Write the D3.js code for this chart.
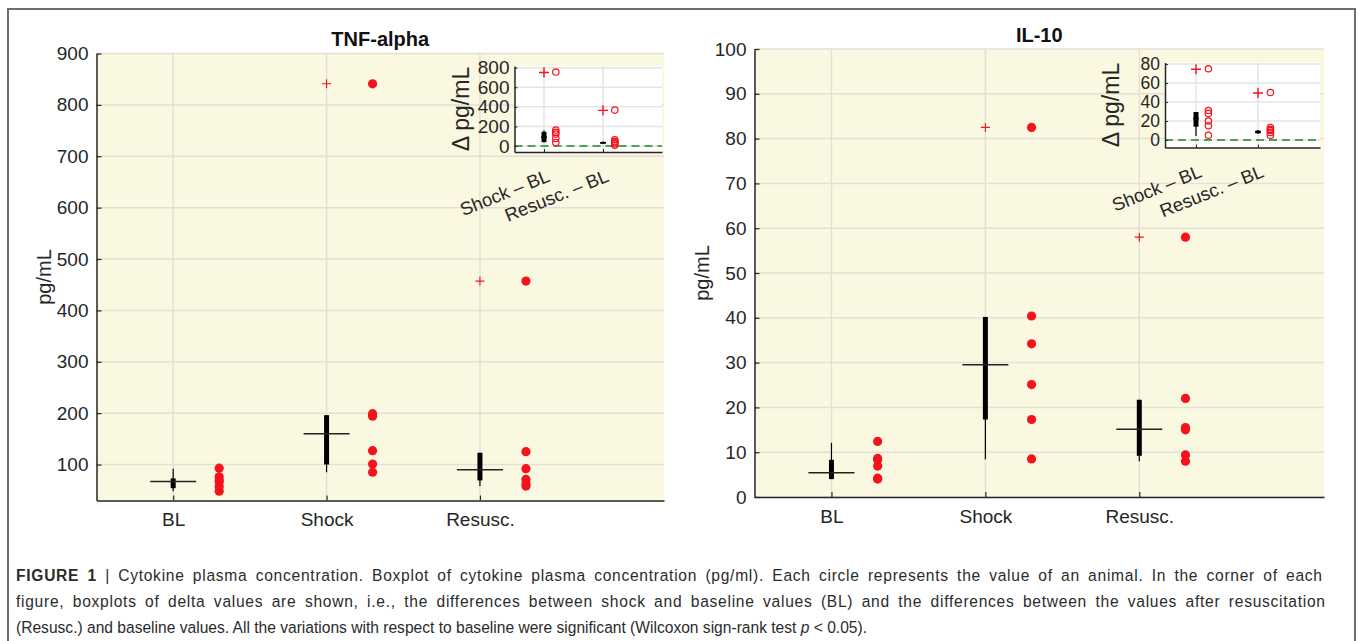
<!DOCTYPE html>
<html>
<head>
<meta charset="utf-8">
<script src="https://cdn.jsdelivr.net/npm/d3@7"></script>
<style>
  body { margin: 0; background: #fff; }
  svg { display: block; font-family: "Liberation Sans", Arial, Helvetica, sans-serif; }
</style>
</head>
<body>
<div class="figure"></div>
<script>
const categories = ["BL", "Shock", "Resusc."];
const deltaCategories = ["Shock \u2013 BL", "Resusc. \u2013 BL"];

// TNF-alpha, one value per animal
const tnfAnimals = [[93, 76, 70, 66, 57, 48], [841, 199, 194, 127, 101, 85], [457, 125, 92, 71, 62, 58]];
const tnfQ1 = [54, 100, 69];
const tnfMedian = [67, 160, 90];
const tnfQ3 = [73, 196, 123];
const tnfLow = [48, 85, 58];
const tnfHigh = [92, 196, 123];
const tnfOutliers = [[], [841], [457]];
const tnfTicks = [100, 200, 300, 400, 500, 600, 700, 800, 900];

// IL-10
const il10Animals = [[12.4, 8.6, 8.3, 6.9, 4.2, 4.0], [82.5, 40.4, 34.2, 25.1, 17.3, 8.5], [58, 22.0, 15.5, 15.0, 9.4, 8.0]];
const il10Q1 = [4.0, 17.3, 9.2];
const il10Median = [5.4, 29.5, 15.1];
const il10Q3 = [8.3, 40.2, 21.7];
const il10Low = [4.0, 8.4, 8.0];
const il10High = [12.1, 40.2, 21.7];
const il10Outliers = [[], [82.5], [58]];
const il10Ticks = [0, 10, 20, 30, 40, 50, 60, 70, 80, 90, 100];

// delta insets
const tnfDeltaAnimals = [[755, 163, 140, 122, 78, 36], [367, 64, 45, 33, 22, 8]];
const tnfDeltaQ1 = [40, 25];
const tnfDeltaMedian = [90, 32];
const tnfDeltaQ3 = [145, 42];
const tnfDeltaLow = [36, 22];
const tnfDeltaHigh = [160, 45];
const tnfDeltaOutliers = [[750], [364]];
const tnfDeltaTicks = [0, 200, 400, 600, 800];

const il10DeltaAnimals = [[75, 31, 28, 20, 15, 5], [50, 13, 11, 10, 8, 5]];
const il10DeltaQ1 = [14, 7];
const il10DeltaMedian = [22.6, 8.5];
const il10DeltaQ3 = [29.5, 10];
const il10DeltaLow = [4.2, 6.5];
const il10DeltaHigh = [29.5, 10.5];
const il10DeltaOutliers = [[74.5], [49.5]];
const il10DeltaTicks = [0, 20, 40, 60, 80];

const width = 1358;
const height = 641;
const red = "#f5121c";
const ink = "#262626";

const svg = d3.select('.figure')
    .append('svg')
    .attr('width', width)
    .attr('height', height);

// outer frame (no bottom edge in the crop)
svg.append("path")
    .attr("d", "M8,641 V9 H1355 V641")
    .attr("fill", "none")
    .attr("stroke", "#6e6e6e")
    .attr("stroke-width", 2);

function plus(cx, cy, s) {
    return `M${cx - s},${cy} H${cx + s} M${cx},${cy - s} V${cy + s}`;
}

function drawMain(p) {
    const g = svg.append("g");
    const x = d3.scaleLinear().domain([0.5, 4.2]).range([p.left, p.right]);
    const y = d3.scaleLinear().domain(p.yDomain).range([p.bottom, p.top]);

    g.append("rect")
        .attr("x", p.left).attr("y", p.top)
        .attr("width", p.right - p.left).attr("height", p.bottom - p.top)
        .attr("fill", "#fbf8e1");

    g.selectAll("line.hgrid")
        .data(p.ticks)
        .enter()
        .append("line")
        .attr("x1", p.left).attr("x2", p.right)
        .attr("y1", d => y(d)).attr("y2", d => y(d))
        .attr("stroke", "#e2e0d8")
        .attr("stroke-width", 1.5);

    g.selectAll("line.vgrid")
        .data(categories)
        .enter()
        .append("line")
        .attr("x1", (d, i) => x(i + 1)).attr("x2", (d, i) => x(i + 1))
        .attr("y1", p.top).attr("y2", p.bottom)
        .attr("stroke", "#e2e0d8")
        .attr("stroke-width", 1.5);

    const yAxis = g.append("g")
        .attr("transform", `translate(${p.left},0)`)
        .call(d3.axisLeft(y).tickValues(p.ticks).tickSize(-5).tickSizeOuter(0).tickPadding(8));
    const xAxis = g.append("g")
        .attr("transform", `translate(0,${p.bottom})`)
        .call(d3.axisBottom(x).tickValues([1, 2, 3]).tickFormat(d => categories[d - 1])
            .tickSize(-5).tickSizeOuter(0).tickPadding(12.5));
    [yAxis, xAxis].forEach(a => {
        a.selectAll("text").attr("font-size", 19).attr("fill", ink)
            .attr("font-family", "Liberation Sans, Arial, sans-serif");
        a.selectAll("line").attr("stroke", ink).attr("stroke-width", 1.2);
        a.select(".domain").attr("stroke", ink).attr("stroke-width", 1.5);
    });

    g.append("text")
        .text(p.title)
        .attr("x", (p.left + p.right) / 2)
        .attr("y", p.top - 7.5)
        .attr("text-anchor", "middle")
        .attr("font-weight", "bold")
        .attr("font-size", 20)
        .attr("fill", "#111");

    g.append("text")
        .text("pg/mL")
        .attr("transform", `translate(${p.left - 46},${(p.top + p.bottom) / 2}) rotate(-90)`)
        .attr("text-anchor", "middle")
        .attr("font-size", 20)
        .attr("fill", ink);

    // whiskers
    g.selectAll("line.whisker")
        .data(categories)
        .enter()
        .append("line")
        .attr("x1", (d, i) => x(i + 1)).attr("x2", (d, i) => x(i + 1))
        .attr("y1", (d, i) => y(p.low[i])).attr("y2", (d, i) => y(p.high[i]))
        .attr("stroke", "#000")
        .attr("stroke-width", 1.2);

    // compact boxes
    g.selectAll("line.box")
        .data(categories)
        .enter()
        .append("line")
        .attr("x1", (d, i) => x(i + 1)).attr("x2", (d, i) => x(i + 1))
        .attr("y1", (d, i) => y(p.q1[i])).attr("y2", (d, i) => y(p.q3[i]))
        .attr("stroke", "#000")
        .attr("stroke-width", 5);

    g.selectAll("line.median")
        .data(categories)
        .enter()
        .append("line")
        .attr("x1", (d, i) => x(i + 1) - 23).attr("x2", (d, i) => x(i + 1) + 23)
        .attr("y1", (d, i) => y(p.median[i])).attr("y2", (d, i) => y(p.median[i]))
        .attr("stroke", "#222")
        .attr("stroke-width", 1.5);

    p.outliers.forEach((list, i) => {
        g.selectAll(null)
            .data(list)
            .enter()
            .append("path")
            .attr("d", d => plus(x(i + 1), y(d), 4.5))
            .attr("stroke", red)
            .attr("stroke-width", 1.1)
            .attr("fill", "none");
    });

    p.animals.forEach((list, i) => {
        g.selectAll(null)
            .data(list)
            .enter()
            .append("circle")
            .attr("cx", x(i + 1.3))
            .attr("cy", d => y(d))
            .attr("r", 4.6)
            .attr("fill", red);
    });
}

function drawInset(p) {
    const g = svg.append("g");
    const x = d3.scaleLinear().domain([0.5, 3]).range([p.left, p.right]);
    const y = d3.scaleLinear().domain(p.yDomain).range([p.bottom, p.top]);

    g.append("rect")
        .attr("x", p.left).attr("y", p.top)
        .attr("width", p.right - p.left).attr("height", p.bottom - p.top)
        .attr("fill", "#fff");

    g.selectAll("line.hgrid")
        .data(p.ticks)
        .enter()
        .append("line")
        .attr("x1", p.left).attr("x2", p.right)
        .attr("y1", d => y(d)).attr("y2", d => y(d))
        .attr("stroke", "#e4e4e4")
        .attr("stroke-width", 1.5);

    g.selectAll("line.vgrid")
        .data(deltaCategories)
        .enter()
        .append("line")
        .attr("x1", (d, i) => x(i + 1)).attr("x2", (d, i) => x(i + 1))
        .attr("y1", p.top).attr("y2", p.bottom)
        .attr("stroke", "#e4e4e4")
        .attr("stroke-width", 1.5);

    g.append("line")
        .attr("x1", p.left).attr("x2", p.right)
        .attr("y1", y(0)).attr("y2", y(0))
        .attr("stroke", "#1f8a2a")
        .attr("stroke-width", 1.5)
        .attr("stroke-dasharray", "8,5");

    const yAxis = g.append("g")
        .attr("transform", `translate(${p.left},0)`)
        .call(d3.axisLeft(y).tickValues(p.ticks).tickSize(-3).tickSizeOuter(0).tickPadding(5));
    yAxis.selectAll("text").attr("font-size", p.tickFont).attr("fill", ink)
        .attr("font-family", "Liberation Sans, Arial, sans-serif");
    yAxis.selectAll("line").attr("stroke", ink);
    yAxis.select(".domain").attr("stroke", ink).attr("stroke-width", 1.5);

    const xAxis = g.append("g")
        .attr("transform", `translate(0,${p.bottom})`)
        .call(d3.axisBottom(x).tickValues([1, 2]).tickFormat("").tickSize(-3).tickSizeOuter(0));
    xAxis.selectAll("line").attr("stroke", ink);
    xAxis.select(".domain").attr("stroke", ink).attr("stroke-width", 1.5);

    g.selectAll("text.xlab")
        .data(deltaCategories)
        .enter()
        .append("text")
        .text(d => d)
        .attr("transform", (d, i) => `translate(${x(i + 1) + 1.8},${p.bottom + 16}) rotate(-22)`)
        .attr("dy", "0.75em")
        .attr("text-anchor", "end")
        .attr("font-size", 18.5)
        .attr("fill", ink);

    g.append("text")
        .text("\u0394 pg/mL")
        .attr("transform", `translate(${p.left - 46},${(p.top + p.bottom) / 2}) rotate(-90)`)
        .attr("text-anchor", "middle")
        .attr("font-size", 23)
        .attr("fill", ink);

    g.selectAll("line.whisker")
        .data(deltaCategories)
        .enter()
        .append("line")
        .attr("x1", (d, i) => x(i + 1)).attr("x2", (d, i) => x(i + 1))
        .attr("y1", (d, i) => y(p.low[i])).attr("y2", (d, i) => y(p.high[i]))
        .attr("stroke", "#000")
        .attr("stroke-width", 1.2);

    g.selectAll("line.box")
        .data(deltaCategories)
        .enter()
        .append("line")
        .attr("x1", (d, i) => x(i + 1)).attr("x2", (d, i) => x(i + 1))
        .attr("y1", (d, i) => y(p.q1[i])).attr("y2", (d, i) => y(p.q3[i]))
        .attr("stroke", "#000")
        .attr("stroke-width", 5);

    g.selectAll("line.median")
        .data(deltaCategories)
        .enter()
        .append("line")
        .attr("x1", (d, i) => x(i + 1) - 3).attr("x2", (d, i) => x(i + 1) + 3)
        .attr("y1", (d, i) => y(p.median[i])).attr("y2", (d, i) => y(p.median[i]))
        .attr("stroke", "#000")
        .attr("stroke-width", 1.5);

    p.outliers.forEach((list, i) => {
        g.selectAll(null)
            .data(list)
            .enter()
            .append("path")
            .attr("d", d => plus(x(i + 1), y(d), 5))
            .attr("stroke", red)
            .attr("stroke-width", 1.4)
            .attr("fill", "none");
    });

    p.animals.forEach((list, i) => {
        g.selectAll(null)
            .data(list)
            .enter()
            .append("circle")
            .attr("cx", x(i + 1.2))
            .attr("cy", d => y(d))
            .attr("r", 3.2)
            .attr("fill", "none")
            .attr("stroke", red)
            .attr("stroke-width", 1.2);
    });
}

drawMain({
    title: "TNF-alpha", left: 96.5, right: 664, top: 53.5, bottom: 500.5, yDomain: [30, 900],
    ticks: tnfTicks, animals: tnfAnimals, q1: tnfQ1, median: tnfMedian, q3: tnfQ3,
    low: tnfLow, high: tnfHigh, outliers: tnfOutliers
});
drawInset({
    left: 514.5, right: 662, top: 66, bottom: 152, yDomain: [-61, 817], tickFont: 19,
    ticks: tnfDeltaTicks, animals: tnfDeltaAnimals, q1: tnfDeltaQ1, median: tnfDeltaMedian, q3: tnfDeltaQ3,
    low: tnfDeltaLow, high: tnfDeltaHigh, outliers: tnfDeltaOutliers
});
drawMain({
    title: "IL-10", left: 754.5, right: 1324, top: 49, bottom: 497, yDomain: [0, 100],
    ticks: il10Ticks, animals: il10Animals, q1: il10Q1, median: il10Median, q3: il10Q3,
    low: il10Low, high: il10High, outliers: il10Outliers
});
drawInset({
    left: 1165, right: 1320, top: 62.5, bottom: 147.5, yDomain: [-7.9, 81.6], tickFont: 17.5,
    ticks: il10DeltaTicks, animals: il10DeltaAnimals, q1: il10DeltaQ1, median: il10DeltaMedian, q3: il10DeltaQ3,
    low: il10DeltaLow, high: il10DeltaHigh, outliers: il10DeltaOutliers
});

// caption: condensed look by squeezing horizontally, first two lines justified
const caption = svg.append("g")
    .attr("font-family", "'Liberation Sans', Arial, sans-serif")
    .attr("font-size", 17)
    .attr("fill", "#2b2b2b");

const line3 = caption.append("text")
    .attr("x", 0).attr("y", 633);
line3.append("tspan").text("(Resusc.) and baseline values. All the variations with respect to baseline were significant (Wilcoxon sign-rank test ");
line3.append("tspan").attr("font-style", "italic").text("p");
line3.append("tspan").text(" < 0.05).");

const squeeze = 852 / line3.node().getComputedTextLength();
caption.attr("transform", `translate(16,0) scale(${squeeze},1)`);

// part of the gap goes to word spacing, the rest is spread over all letters
function justify(text, target) {
    const str = text.text();
    const spaces = (str.match(/ /g) || []).length;
    const extra = (target / squeeze - text.node().getComputedTextLength()) / spaces;
    text.attr("word-spacing", Math.max(0, extra * 0.4))
        .attr("textLength", target / squeeze)
        .attr("lengthAdjust", "spacing");
}

const line1 = caption.append("text")
    .attr("x", 0).attr("y", 581);
line1.append("tspan").attr("font-weight", "bold").text("FIGURE 1");
line1.append("tspan").text(" | Cytokine plasma concentration. Boxplot of cytokine plasma concentration (pg/ml). Each circle represents the value of an animal. In the corner of each");
justify(line1, 1306);

const line2 = caption.append("text")
    .attr("x", 0).attr("y", 607)
    .text("figure, boxplots of delta values are shown, i.e., the differences between shock and baseline values (BL) and the differences between the values after resuscitation");
justify(line2, 1309);
</script>
</body>
</html>
